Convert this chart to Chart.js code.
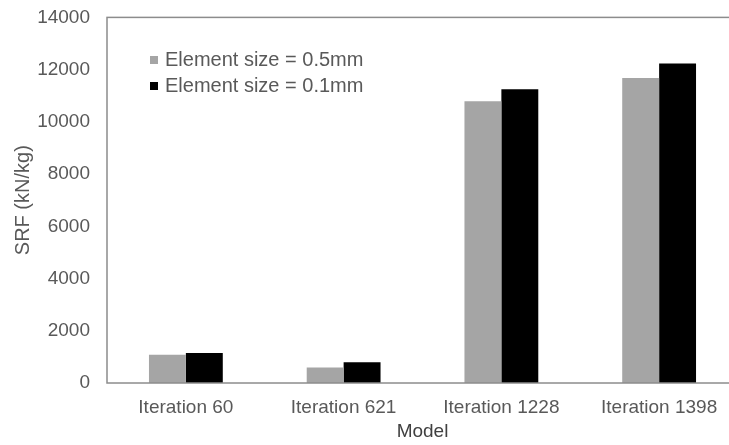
<!DOCTYPE html>
<html>
<head>
<meta charset="utf-8">
<script src="https://cdn.jsdelivr.net/npm/chart.js@4"></script>
<style>
    html, body { margin: 0; padding: 0; background: #fff; overflow: hidden; }
    #wrap { position: relative; width: 750px; height: 456px; margin-top: -11px; }
</style>
</head>
<body>
<div id="wrap"><canvas id="chart"></canvas></div>
<script>
// Данные графика
const categories = ['Iteration 60', 'Iteration 621', 'Iteration 1228', 'Iteration 1398'];
const seriesNames = ['Element size = 0.5mm', 'Element size = 0.1mm'];
const coarseValues = [1080, 590, 10790, 11680];
const fineValues = [1150, 790, 11250, 12230];
const yTicks = [0, 2000, 4000, 6000, 8000, 10000, 12000, 14000];

const TEXT_COLOR = '#595959';
const AXIS_COLOR = '#8c8c8c';
const FONT = 'Liberation Sans, Arial, sans-serif';
const FONT_SIZE = 19;
const SHIFT = 11; // холст сдвинут вверх на столько пикселей

// Рамка области графика + легенда внутри
const framePlugin = {
    id: 'frame',
    afterDatasetsDraw(chart) {
        const { ctx, chartArea } = chart;
        ctx.save();
        ctx.strokeStyle = AXIS_COLOR;
        ctx.lineWidth = 1.5;
        ctx.strokeRect(chartArea.left, chartArea.top, chartArea.right - chartArea.left, chartArea.bottom - chartArea.top);

        ctx.font = '20px ' + FONT;
        ctx.textBaseline = 'middle';
        chart.data.datasets.forEach((ds, i) => {
            const y = 60 + SHIFT + i * 26;
            ctx.fillStyle = ds.backgroundColor;
            ctx.fillRect(150, y - 4, 8, 8);
            ctx.fillStyle = TEXT_COLOR;
            ctx.fillText(ds.label, 165, y);
        });
        ctx.restore();
    }
};

new Chart(document.getElementById('chart'), {
    type: 'bar',
    data: {
        labels: categories,
        datasets: [
            { label: seriesNames[0], data: coarseValues, backgroundColor: '#a5a5a5' },
            { label: seriesNames[1], data: fineValues, backgroundColor: '#000000' },
        ],
    },
    options: {
        responsive: true,
        maintainAspectRatio: false,
        animation: false,
        layout: { padding: { top: 0, right: 12, left: 0, bottom: 0 } },
        datasets: {
            bar: { categoryPercentage: 0.468, barPercentage: 1, borderWidth: 0 },
        },
        plugins: {
            legend: { display: false },
            tooltip: { enabled: false },
        },
        scales: {
            x: {
                grid: { display: false, drawTicks: false },
                border: { display: false },
                ticks: { color: TEXT_COLOR, font: { family: FONT, size: FONT_SIZE }, padding: 13, maxRotation: 0, autoSkip: false },
                title: { display: true, text: 'Model', color: '#404040', font: { family: FONT, size: FONT_SIZE }, padding: { top: 0, bottom: 2 } },
                afterFit: (scale) => { scale.height = 62; },
            },
            y: {
                min: 0,
                max: 14000,
                grid: { display: false, drawTicks: false },
                border: { display: false },
                afterBuildTicks: (scale) => { scale.ticks = yTicks.map(v => ({ value: v })); },
                ticks: { color: TEXT_COLOR, font: { family: FONT, size: FONT_SIZE }, padding: 17, callback: (v) => String(v) },
                title: { display: true, text: 'SRF (kN/kg)', color: TEXT_COLOR, font: { family: FONT, size: 20 }, padding: { top: 11, bottom: 0 } },
                afterFit: (scale) => { scale.width = 107; },
            },
        },
    },
    plugins: [framePlugin],
});
</script>
</body>
</html>
